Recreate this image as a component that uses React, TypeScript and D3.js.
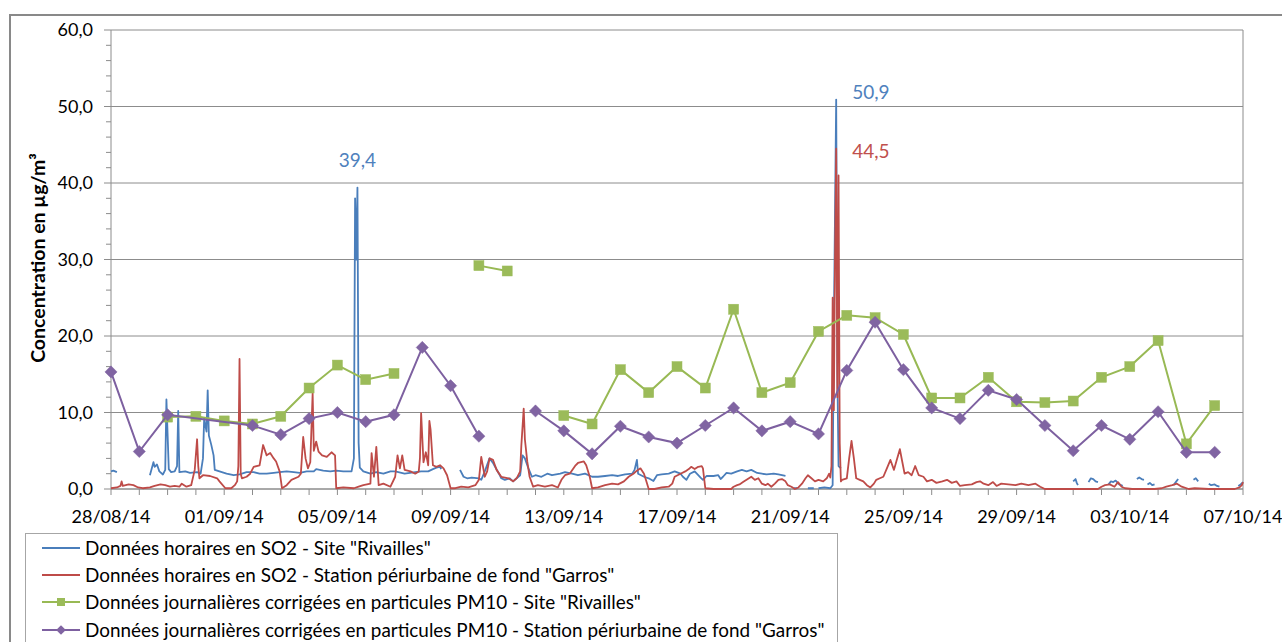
import React from "react";
import * as d3 from "d3";

// ---------- DATA ----------
// x-axis tick labels (every 4 days, from 28/08/14 to 07/10/14)
const dateLabels = [
  "28/08/14", "01/09/14", "05/09/14", "09/09/14", "13/09/14", "17/09/14",
  "21/09/14", "25/09/14", "29/09/14", "03/10/14", "07/10/14",
];
const yTicks = [0, 10, 20, 30, 40, 50, 60];

const seriesNames = [
  'Données horaires en SO2 - Site "Rivailles"',
  'Données horaires en SO2 - Station périurbaine de fond "Garros"',
  'Données journalières corrigées en particules PM10 - Site "Rivailles"',
  'Données journalières corrigées en particules PM10 - Station périurbaine de fond "Garros"',
];

// Hourly SO2, [hour since 28/08/14 00:00, µg/m³]; null value = gap
const so2Rivailles: [number, number | null][] = [
  [0, 2.3], [2, 2.4], [5, 2.2], [6, null],
  [33, 1.8], [36, 3.5], [37, 2.9], [39, 3.2], [41, 2.3], [44, 1.9], [46, 2.5], [47, 11.7], [49, 2.6], [51, 2.2], [54, 2.3], [56, 3.0], [57, 10.2], [58, 2.2], [63, 2.3], [67, 2.1], [73, 2.2], [76, 2.0], [78, 4.0], [79, 9.2], [81, 7.5], [82, 12.9], [83, 7.0], [85, 5.8], [87, 4.4], [88, 2.5], [92, 2.3], [98, 2.0], [104, 1.8], [109, 1.9], [115, 2.2], [121, 2.2], [126, 2.0], [132, 2.0], [138, 2.1], [143, 2.2], [149, 2.3], [155, 2.2], [160, 2.1], [166, 2.3], [172, 2.3], [174, 2.6], [180, 2.4], [186, 2.3], [191, 2.4], [197, 2.3], [204, 2.3], [206, 4.0], [207, 38.0], [208, 30.0], [209, 39.4], [210, 6.0], [211, 2.8], [214, 2.3], [220, 2.0], [225, 2.2], [231, 2.0], [237, 2.3],
  [241, 2.3], [249, 2.0], [258, 2.2], [263, 2.3], [269, 2.3], [273, 2.6], [276, 2.8], [279, 2.9], [280, 2.6], [281, null],
  [296, 2.5], [299, 1.6], [302, 1.4], [306, 1.5], [312, 1.4], [314, 1.2], [317, 2.3], [321, 4.0], [324, 3.4], [329, 2.0], [331, 1.4], [334, 1.2], [338, 1.4], [341, 1.0], [344, 1.4], [347, 1.8], [349, 4.4], [351, 4.0], [354, 2.7], [357, 1.6], [360, 1.8], [365, 1.6], [370, 2.0], [374, 1.8], [381, 2.0], [385, 2.2], [391, 2.0], [396, 1.8], [402, 2.0], [408, 1.6], [413, 1.6], [419, 1.7], [425, 1.8], [430, 1.7], [436, 1.9], [442, 2.0], [444, 2.5], [446, 3.8], [447, 2.0], [452, 1.6], [456, 1.4], [460, 1.05], [463, 1.8], [467, 1.9], [473, 2.0],
  [478, 2.3], [483, 2.0], [485, 1.6], [488, 1.2], [491, 2.0], [495, 2.3], [500, 1.5], [502, 1.2], [505, 1.7], [511, 1.7], [515, 1.8], [517, 1.3], [519, 1.6], [522, 2.1], [526, 2.0], [531, 2.3], [535, 2.5], [539, 2.3], [543, 2.5], [548, 2.1], [552, 2.0], [556, 1.9], [562, 2.0], [566, 1.9], [572, 1.7], [573, null],
  [579, 0.1], [582, 0.1], [583, null], [591, 0.1], [596, 0.1], [597, null],
  [600, 0.1], [605, 0.2], [610, 0.1], [612, 0.5], [613, 21], [615, 50.9], [616, 15], [617, 3], [619, 2.7], [620, null],
  [816, 1.0], [818, 1.3], [819, 0.8], [820, 0.5], [821, null],
  [829, 0.9], [831, 1.4], [833, 1.3], [835, 1.0], [837, 0.9], [838, null],
  [846, 0.6], [848, 1.0], [850, 0.9], [852, 1.1], [855, 0.6], [858, 0.4], [859, null],
  [870, 1.3], [872, 1.5], [874, 1.3], [876, 1.2], [877, null],
  [879, 0.6], [881, 0.8], [883, 0.5], [885, 0.6], [886, null],
  [901, 0.5], [903, 0.9], [905, 1.3], [906, null],
  [918, 1.2], [920, 1.4], [922, 1.0], [923, null],
  [931, 0.7], [933, 0.5], [936, 0.6], [938, 0.4], [940, 0.3], [941, null],
  [956, 0.4], [958, 0.6], [960, 0.9],
];

const so2Garros: [number, number | null][] = [
  [0, 0.1], [5, 0.2], [8, 0.4], [9, 1.0], [10, 0.4], [15, 0.6], [19, 0.5], [23, 0.2], [27, 0.1], [33, 0.2], [37, 0.4], [42, 0.6], [46, 0.5], [50, 0.3], [54, 0.4], [58, 0.3], [60, 0.7], [64, 0.3], [68, 0.5], [71, 2.5], [73, 6.5], [74, 3.0], [75, 1.4], [78, 1.8], [84, 1.7], [90, 1.4], [92, 1.0], [97, 0.1], [102, 0.1], [105, 0.5], [107, 1.0], [108, 3.0], [109, 17.0], [110, 2.0], [111, 1.4], [115, 1.6], [118, 2.0], [121, 2.9], [126, 3.1], [129, 5.75], [132, 4.4], [135, 4.7], [138, 4.0], [140, 3.6], [143, 2.3], [145, 0.1], [149, 0.5], [153, 1.2], [159, 1.6], [161, 2.0], [163, 6.8], [165, 4.0], [167, 2.7], [169, 3.5], [171, 12.5], [172, 5.0], [174, 6.2], [176, 4.9], [179, 4.4], [183, 4.2], [187, 4.8], [190, 4.4], [191, 0.1], [197, 0.2], [206, 0.1], [210, 0.3], [214, 0.5], [220, 0.7], [221, 4.7], [223, 1.6], [225, 5.5], [227, 0.5], [231, 0.7], [237, 0.3],
  [241, 1.6], [243, 4.4], [245, 2.7], [247, 4.4], [249, 2.5], [254, 2.3], [258, 2.0], [261, 2.3], [262, 4.0], [263, 9.9], [265, 3.5], [267, 4.8], [269, 3.1], [270, 8.9], [271, 7.8], [273, 3.1], [276, 2.9], [279, 3.1], [282, 2.7], [285, 1.8], [288, 0.1], [292, 0.1], [297, 0.3], [303, 0.2], [309, 0.5], [312, 1.2], [314, 4.2], [317, 1.6], [319, 2.3], [321, 4.0], [324, 3.8], [327, 2.5], [331, 1.6], [337, 1.4], [341, 1.0], [344, 1.4], [347, 2.3], [348, 5.7], [350, 10.5], [351, 6.5], [353, 3.6], [355, 1.6], [358, 0.3], [362, 0.5], [368, 0.3], [374, 0.5], [379, 0.2], [382, 1.2], [385, 1.8], [389, 2.0], [394, 3.1], [396, 3.4], [401, 3.6], [403, 3.1], [406, 1.6], [408, 0.1], [413, 0.2], [419, 0.5], [425, 0.7], [430, 0.6], [435, 1.0], [439, 1.6], [443, 2.0], [446, 2.4], [449, 2.7], [452, 2.0], [454, 1.0], [456, 0.0], [461, 0.0], [467, 0.2], [473, 0.3],
  [476, 0.7], [478, 1.6], [483, 2.0], [487, 2.3], [490, 2.6], [492, 2.9], [495, 2.6], [498, 2.9], [501, 3.0], [502, 2.7], [504, 0.1], [511, 0.0], [519, 0.0], [526, 0.0], [528, 0.3], [531, 0.5], [533, 0.6], [536, 0.9], [541, 1.4], [543, 1.6], [546, 1.2], [549, 1.4], [552, 0.7], [555, 0.5], [557, 0.7], [560, 0.3], [563, 0.7], [566, 1.2], [569, 1.3], [572, 1.0], [574, 0.5], [577, 0.3], [580, 0.0], [583, 0.2], [586, 0.7], [589, 1.4], [591, 1.8], [594, 1.4], [597, 1.0], [600, 1.2], [604, 1.0], [607, 1.4], [609, 2.0], [610, 1.5], [611, 3.0], [612, 25], [613, 10.3], [614, 30], [615, 44.5], [616, 12], [617, 41], [618, 6], [619, 1.0], [620, 1.2], [624, 1.4], [626, 4.0], [628, 6.3], [630, 4.0], [632, 1.4], [635, 1.2], [638, 1.0], [641, 0.5], [644, 0.2], [647, 0.7], [649, 1.2], [652, 1.4], [655, 1.6], [658, 2.7], [661, 3.8], [664, 2.5], [666, 3.6], [669, 5.2], [671, 3.6], [673, 2.0], [676, 2.2], [679, 1.8], [682, 3.0], [685, 1.8], [689, 1.6], [692, 1.0], [696, 1.2], [700, 0.8], [705, 1.0], [709, 1.2], [713, 0.8], [717, 1.0],
  [720, 0.4], [724, 0.5], [730, 0.6], [734, 0.9], [737, 1.0], [740, 0.7], [744, 0.5], [748, 0.9], [751, 0.4], [755, 0.7], [761, 0.6], [767, 0.5], [772, 0.7], [778, 0.5], [784, 0.7], [788, 0.3], [792, 0.0], [801, 0.0], [809, 0.0], [818, 0.0], [829, 0.0], [837, 0.0], [840, 0.3], [843, 0.5], [847, 0.6], [851, 0.3], [854, 0.9], [857, 0.3], [860, 0.1], [866, 0.0], [874, 0.0], [885, 0.0], [891, 0.1], [895, 0.3], [900, 0.5], [904, 0.7], [908, 0.3], [914, 0.0], [919, 0.1], [931, 0.0], [942, 0.0], [953, 0.0], [957, 0.2], [959, 0.5], [960, 0.9],
];

// Daily PM10, one value per day from 28/08/14 (index 0) to 06/10/14 (index 39)
// null = gap (line broken), NA = missing but line joined across
const NA = undefined as unknown as number;
const pm10Rivailles: (number | null)[] = [
  null, null, 9.4, 9.5, 8.9, 8.5, 9.5, 13.2, 16.2, 14.3,
  15.1, null, null, 29.2, 28.5, null, 9.6, 8.5, 15.6, 12.6,
  16.0, 13.2, 23.5, 12.6, 13.9, 20.6, 22.7, 22.4, 20.2, 11.9,
  11.9, 14.6, 11.4, 11.3, 11.5, 14.6, 16.0, 19.4, 5.9, 10.9,
];
const pm10Garros: (number | null)[] = [
  15.3, 4.9, 9.7, NA, NA, 8.3, 7.1, 9.2, 10.0, 8.8,
  9.7, 18.5, 13.5, 6.9, null, 10.2, 7.6, 4.6, 8.2, 6.8,
  6.0, 8.3, 10.6, 7.6, 8.8, 7.2, 15.5, 21.8, 15.6, 10.6,
  9.2, 12.9, 11.7, 8.3, 5.0, 8.3, 6.5, 10.1, 4.8, 4.8,
];

// ---------- STYLE ----------
const W = 1282;
const H = 642;
const C_BLUE = "#4A7EBB";
const C_RED = "#BE4B48";
const C_GREEN_LINE = "#98B954";
const C_GREEN = "#9BBB59";
const C_PURPLE_LINE = "#7D60A0";
const C_PURPLE = "#8064A2";
const GRID = "#8C8C8C";
const FONT = "Lato, 'Open Sans', sans-serif";

const plot = { left: 111, right: 1243, top: 30, bottom: 489 };

export default function App() {
  const x = d3.scaleLinear().domain([0, 40 * 24]).range([plot.left, plot.right]);
  const y = d3.scaleLinear().domain([0, 60]).range([plot.bottom, plot.top]);

  const hourlyLine = d3
    .line<[number, number | null]>()
    .defined((d) => d[1] !== null)
    .x((d) => x(d[0]))
    .y((d) => y(d[1] as number));

  const dailyPts = (arr: (number | null)[]) =>
    arr
      .map((v, i) => [i * 24, v] as [number, number | null])
      .filter((d) => d[1] !== undefined);

  const green = dailyPts(pm10Rivailles);
  const purple = dailyPts(pm10Garros);

  const minorTicks = d3.range(0, 61, 2);
  const dayTicks = d3.range(0, 41);

  const diamond = d3.symbol().type(d3.symbolDiamond2).size(95)();

  const legendY = [548, 575, 602, 630];
  const legendColors = [C_BLUE, C_RED, C_GREEN_LINE, C_PURPLE_LINE];

  return (
    <svg
      width={W}
      height={H}
      style={{ position: "absolute", left: 0, top: 0, background: "#fff" }}
      fontFamily={FONT}
    >
      <rect x={0} y={0} width={W} height={H} fill="#fff" />
      {/* outer chart border */}
      <path d={`M10,${H} V15 H${W}`} fill="none" stroke="#898989" strokeWidth={2} />

      {/* gridlines */}
      {yTicks.map((t) => (
        <line key={"g" + t} x1={plot.left} x2={plot.right} y1={y(t)} y2={y(t)} stroke={GRID} strokeWidth={1} />
      ))}
      <line x1={plot.right} x2={plot.right} y1={plot.top} y2={plot.bottom} stroke={GRID} strokeWidth={1} />

      {/* y axis */}
      <line x1={plot.left} x2={plot.left} y1={plot.top} y2={plot.bottom} stroke={GRID} strokeWidth={1} />
      {minorTicks.map((t) => (
        <line key={"mt" + t} x1={t % 10 === 0 ? plot.left - 7 : plot.left - 5} x2={plot.left} y1={y(t)} y2={y(t)} stroke={GRID} strokeWidth={1} />
      ))}
      {yTicks.map((t) => (
        <text key={"yl" + t} x={93} y={y(t)} dy="0.35em" textAnchor="end" fontSize={18} fill="#000">
          {d3.format(".1f")(t).replace(".", ",")}
        </text>
      ))}
      <text
        transform={`translate(45,258) rotate(-90)`}
        textAnchor="middle"
        fontSize={19.5}
        fontWeight="bold"
        fill="#000"
      >
        Concentration en µg/m³
      </text>

      {/* x axis */}
      <line x1={plot.left} x2={plot.right} y1={plot.bottom} y2={plot.bottom} stroke={GRID} strokeWidth={1} />
      {dayTicks.map((d) => (
        <line key={"xt" + d} x1={x(d * 24)} x2={x(d * 24)} y1={plot.bottom} y2={plot.bottom + 6} stroke={GRID} strokeWidth={1} />
      ))}
      {dateLabels.map((lab, i) => (
        <text key={"xl" + i} x={x(i * 4 * 24)} y={517} dy="0.35em" textAnchor="middle" fontSize={18} fill="#000">
          {lab}
        </text>
      ))}

      {/* hourly series */}
      <path d={hourlyLine(so2Rivailles) || ""} fill="none" stroke={C_BLUE} strokeWidth={1.8} strokeLinejoin="round" />
      <path d={hourlyLine(so2Garros) || ""} fill="none" stroke={C_RED} strokeWidth={1.8} strokeLinejoin="round" />

      {/* daily series */}
      <path d={hourlyLine(green) || ""} fill="none" stroke={C_GREEN_LINE} strokeWidth={2} />
      {green.filter((d) => d[1] !== null).map((d, i) => (
        <rect key={"gs" + i} x={x(d[0]) - 5} y={y(d[1] as number) - 5} width={10} height={10} fill={C_GREEN} stroke={C_GREEN} strokeWidth={0.5} />
      ))}
      <path d={hourlyLine(purple) || ""} fill="none" stroke={C_PURPLE_LINE} strokeWidth={2} />
      {purple.filter((d) => d[1] !== null).map((d, i) => (
        <path key={"pd" + i} d={diamond || ""} transform={`translate(${x(d[0])},${y(d[1] as number)})`} fill={C_PURPLE} stroke={C_PURPLE} strokeWidth={0.5} />
      ))}

      {/* data labels */}
      <text x={x(209)} y={y(39.4) - 21} textAnchor="middle" fontSize={19} fill="#4F81BD">39,4</text>
      <text x={x(615) + 16} y={y(50.9) - 1} fontSize={19} fill="#4F81BD">50,9</text>
      <text x={x(615) + 16} y={y(44.5) + 9} fontSize={19} fill="#C0504D">44,5</text>

      {/* legend */}
      <rect x={25.5} y={533.5} width={812} height={120} fill="#fff" stroke="#A6A6A6" strokeWidth={1} />
      {seriesNames.map((name, i) => (
        <g key={"lg" + i}>
          <line x1={42} x2={80} y1={legendY[i]} y2={legendY[i]} stroke={legendColors[i]} strokeWidth={2} />
          {i === 2 && <rect x={57} y={legendY[i] - 4} width={8} height={8} fill={C_GREEN} />}
          {i === 3 && (
            <path d={d3.symbol().type(d3.symbolDiamond2).size(60)() || ""} transform={`translate(61,${legendY[i]})`} fill={C_PURPLE} />
          )}
          <text x={85} y={legendY[i]} dy="0.35em" fontSize={18.9} fill="#000">
            {name}
          </text>
        </g>
      ))}
    </svg>
  );
}
